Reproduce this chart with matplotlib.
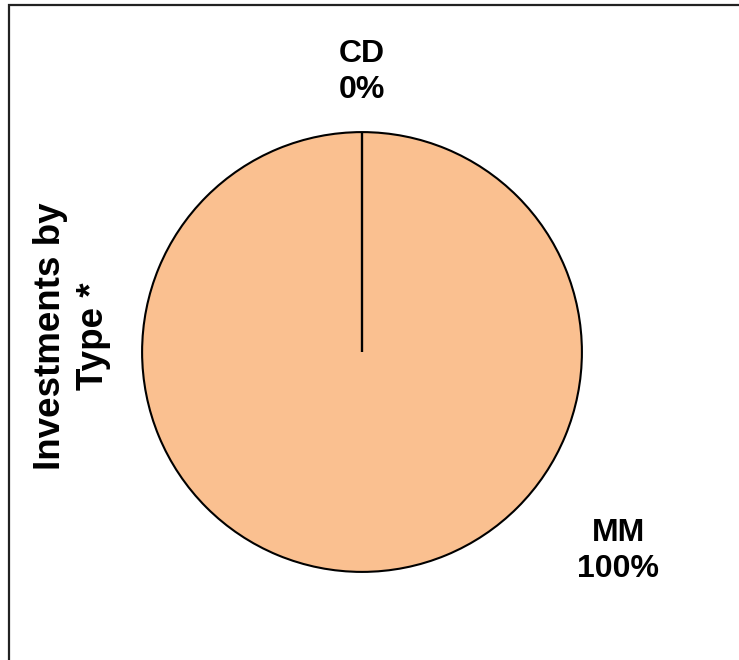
import matplotlib
matplotlib.use("Agg")
import matplotlib.pyplot as plt
import numpy as np
from matplotlib.patches import Rectangle

categories = ["CD", "MM"]
values = [0, 100]
pct_labels = ["0%", "100%"]
title = "Investments by\nType *"

plt.rcParams['font.family'] = ['Liberation Sans', 'DejaVu Sans']

W, H = 739, 660
fig = plt.figure(figsize=(W / 100, H / 100), dpi=100)

cx, cy, r = 362, 352, 221
ax = fig.add_axes([(cx - r) / W, (H - cy - r) / H, 2 * r / W, 2 * r / H])
wedges, _ = ax.pie(values, startangle=90, counterclock=False, radius=1,
                   colors=["#FAC090", "#FAC090"],
                   wedgeprops=dict(edgecolor="black", linewidth=1.5))
# boundary lines between slices (zero-size slice shows as a radial line)
for w in wedges:
    for th in (w.theta1, w.theta2):
        t = np.deg2rad(th)
        ax.plot([0, np.cos(t)], [0, np.sin(t)], color="black", lw=1.5,
                solid_capstyle="butt")
ax.set_xlim(-1.005, 1.005)
ax.set_ylim(-1.005, 1.005)
ax.set_aspect("equal")
ax.axis("off")

fs = 23
fig.text(362 / W, 1 - 72 / H, f"{categories[0]}\n{pct_labels[0]}", ha="center", va="center",
         fontsize=fs, fontweight="bold", linespacing=1.3)
fig.text(618 / W, 1 - 551 / H, f"{categories[1]}\n{pct_labels[1]}", ha="center", va="center",
         fontsize=fs, fontweight="bold", linespacing=1.3)
fig.text(72 / W, 1 - 336 / H, title, ha="center", va="center", rotation=90,
         fontsize=26.5, fontweight="bold", linespacing=1.3)

border = Rectangle((8.5 / W, -0.1), 1.2, (H - 5) / H + 0.1, transform=fig.transFigure,
                   fill=False, edgecolor="#222222", linewidth=1.6)
fig.add_artist(border)

fig.savefig("out.png", dpi=100)
